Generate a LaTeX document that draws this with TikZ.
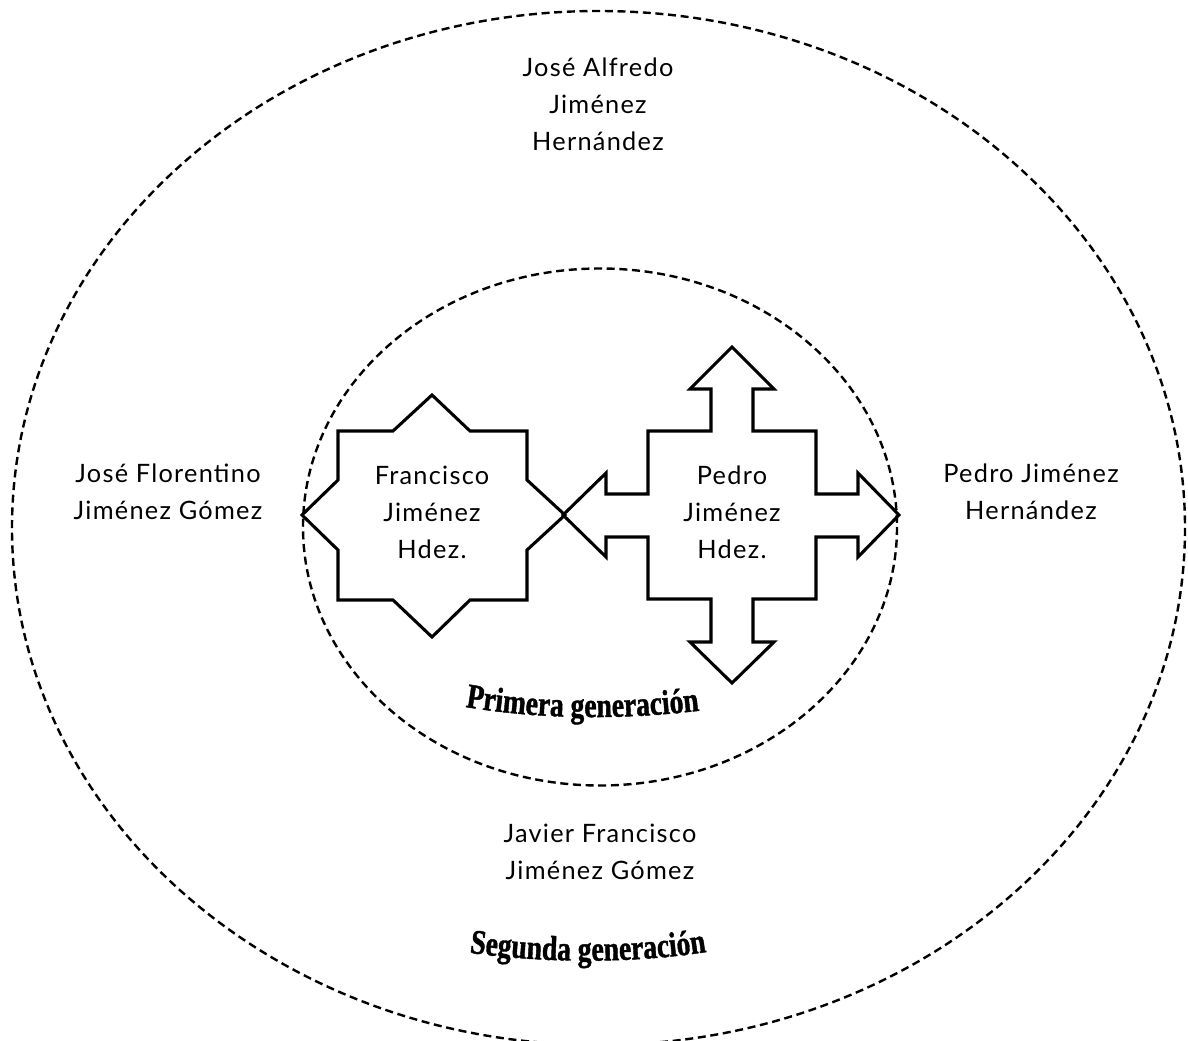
\documentclass[tikz,border=0pt]{standalone}
\usepackage{fontspec}
\usetikzlibrary{decorations.text}
\newfontfamily\namefont[LetterSpace=5]{Lato}
\newfontfamily\artfont[FakeStretch=0.8, FakeBold=1.2]{Liberation Serif}
\newcommand\gentitle{\fontsize{26}{26}\selectfont\artfont\bfseries}

\begin{document}
\begin{tikzpicture}[x=0.75pt, y=-0.75pt,
        persona/.style={font=\namefont\fontsize{19}{27.75}\selectfont, align=center, inner sep=0pt},
        contorno/.style={draw=black, line width=2.3pt, line join=miter},
        generacion/.style={dash pattern=on 6pt off 3.5pt, line width=1.8pt},
        arco/.style={decorate, decoration={text along path, text align=center,
                     text format delimiters={|}{|}, text={#1}}}
    ]
        \useasboundingbox (0,0) rectangle (1188,1041);
        \draw[generacion] (598.5,528) ellipse [x radius=586.5, y radius=517];
        \draw[generacion] (600,527) ellipse [x radius=297, y radius=258.5];

        \draw[contorno] (432,395) -- (470,431) -- (527,431) -- (527,480) -- (565,515) -- (527,550)
            -- (527,600) -- (470,600) -- (432,637) -- (393,600) -- (338,600) -- (338,550)
            -- (302,515) -- (338,480) -- (338,431) -- (393,431) -- cycle;
        \draw[contorno] (732,347) -- (774,389) -- (753,389) -- (753,431) -- (816,431) -- (816,494)
            -- (858,494) -- (858,473) -- (899,515) -- (858,557) -- (858,537) -- (816,537)
            -- (816,599) -- (753,599) -- (753,642) -- (774,642) -- (732,683) -- (690,642)
            -- (711,642) -- (711,599) -- (648,599) -- (648,537) -- (606,537) -- (606,557)
            -- (563,515) -- (606,473) -- (606,494) -- (648,494) -- (648,431) -- (711,431)
            -- (711,389) -- (690,389) -- cycle;

        \node[persona] (alfredo)    at (598,104) {José Alfredo\\Jiménez\\Hernández};
        \node[persona] (florentino) at (168,492) {José Florentino\\Jiménez Gómez};
        \node[persona] (pedroJH)    at (1031,492) {Pedro Jiménez\\Hernández};
        \node[persona] (francisco)  at (432,512) {Francisco\\Jiménez\\Hdez.};
        \node[persona] (pedro)      at (732,512) {Pedro\\Jiménez\\Hdez.};
        \node[persona] (javier)     at (600,852) {Javier Francisco\\Jiménez Gómez};

        \path[arco={|\gentitle|Primera generación}]
            (460,706) .. controls (540,720) and (625,720) .. (705,710);
        \path[arco={|\gentitle|Segunda generación}]
            (458,951) .. controls (540,964) and (640,964) .. (718,950);
    \end{tikzpicture}
\end{document}
